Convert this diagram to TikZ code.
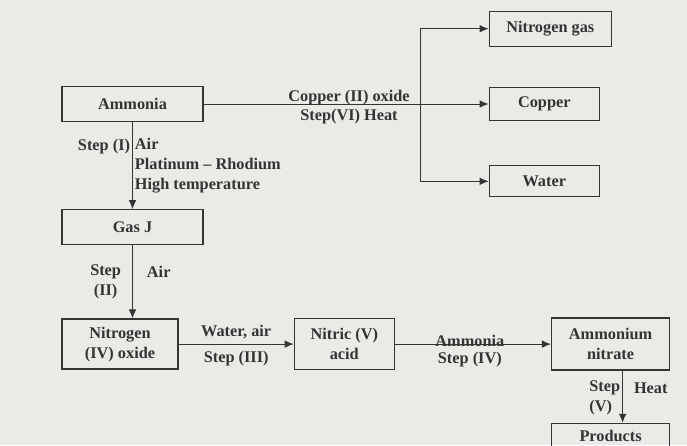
\documentclass[tikz,border=0pt]{standalone}
\usepackage{fontspec}
\setmainfont{Liberation Serif}
\usetikzlibrary{arrows.meta,positioning}
\definecolor{inkgray}{RGB}{52,52,52}
\definecolor{paper}{RGB}{234,234,231}

\begin{document}
\begin{tikzpicture}[x=1pt,y=1pt,>={Latex[length=9pt,width=7.5pt]},font=\fontsize{16.3}{20}\selectfont\bfseries,text=inkgray]
\tikzstyle{box}=[draw=inkgray,line width=1.3pt,align=center,inner sep=2pt]
\tikzstyle{lbl}=[inner sep=2pt,align=left]
\tikzstyle{link}=[->,line width=0.9pt,draw=inkgray]
\fill[paper] (0,0) rectangle (687,-445);
\useasboundingbox (0,0) rectangle (687,-445);
\node[box,minimum width=141pt,minimum height=35pt] (ammonia) at (132.5,-104) {Ammonia};
\node[box,minimum width=141pt,minimum height=35pt,below=87pt of ammonia] (gasj) {Gas J};
\node[box,minimum width=116pt,minimum height=50pt,below=73pt of gasj.south west,anchor=north west] (nitrox) {Nitrogen\\(IV) oxide};
\node[box,minimum width=100pt,minimum height=51pt,right=115pt of nitrox] (nitric) {Nitric (V)\\acid};
\node[box,minimum width=118pt,minimum height=52pt,right=156pt of nitric] (ammnit) {Ammonium\\nitrate};
\node[box,minimum width=118pt,minimum height=26pt,below=52pt of ammnit] (products) {Products};
\node[box,minimum width=110pt,minimum height=33pt,right=285pt of ammonia] (copper) {Copper};
\node[box,minimum width=122pt,minimum height=35pt,above=40pt of copper.north west,anchor=south west] (nitgas) {Nitrogen gas};
\node[box,minimum width=110pt,minimum height=31pt,below=44pt of copper.south west,anchor=north west] (water) {Water};
\coordinate[right=217pt of ammonia.east] (split);
% copper (II) oxide branch
\draw[link] (ammonia.east) -- node[lbl,above,pos=.51,yshift=-3pt]{Copper (II) oxide} node[lbl,below,pos=.51,yshift=-2.5pt]{Step(VI) Heat} (copper.west);
\draw[link] (split) |- (nitgas.west);
\draw[link] (split) |- (water.west);
% main chain
\draw[link] (ammonia.south) -- node[lbl,left,pos=.28]{Step (I)} node[lbl,right,midway]{Air\\Platinum – Rhodium\\High temperature} (gasj.north);
\draw[link] (gasj.south) -- node[lbl,left,align=center,midway,xshift=-9pt]{Step\\(II)} node[lbl,right,pos=.36,xshift=12pt]{Air} (gasj.south |- nitrox.north);
\draw[link] (nitrox) -- node[lbl,above,midway,yshift=3pt]{Water, air} node[lbl,below,midway,yshift=-5pt]{Step (III)} (nitric);
\draw[link] (nitric) -- node[lbl,pos=.48,yshift=3pt]{Ammonia} node[lbl,below,pos=.48,yshift=-6pt]{Step (IV)} (ammnit);
\draw[link] ([xshift=12pt]ammnit.south) -- node[lbl,left,pos=.53]{Step\\(V)} node[lbl,right,pos=.34,xshift=9pt]{Heat} ([xshift=12pt]products.north);
\end{tikzpicture}
\end{document}
